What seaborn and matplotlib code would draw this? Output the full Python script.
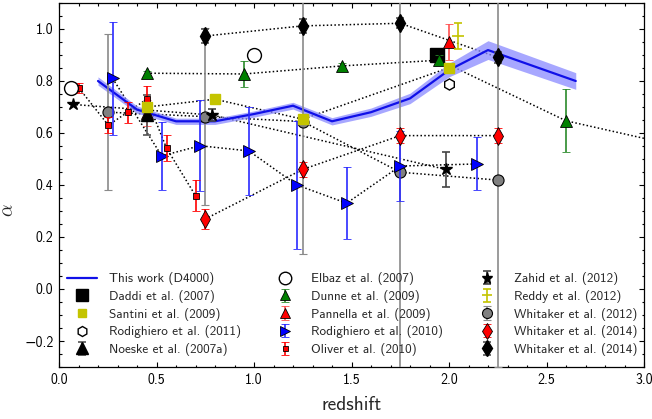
import numpy as np
import pandas as pd
import matplotlib
matplotlib.use("Agg")
import matplotlib.pyplot as plt
import seaborn as sns

# ---------------- data ----------------
this_z = [0.2, 0.4, 0.6, 0.8, 1.0, 1.2, 1.4, 1.6, 1.8, 2.0, 2.2, 2.65]
this_a = [0.80, 0.69, 0.645, 0.645, 0.673, 0.705, 0.645, 0.68, 0.733, 0.842, 0.919, 0.80]
this_e = [0.016, 0.014, 0.012, 0.012, 0.012, 0.013, 0.014, 0.016, 0.02, 0.026, 0.036, 0.032]

daddi_z, daddi_a = [1.94], [0.90]
santini_z = [0.45, 0.80, 1.25, 2.0]
santini_a = [0.70, 0.73, 0.653, 0.851]
rodi11_z, rodi11_a = [2.0], [0.79]
noeske_z, noeske_a, noeske_e = [0.45], [0.669], [0.077]
elbaz_z, elbaz_a = [0.062, 1.0], [0.773, 0.90]
dunne_z = [0.45, 0.95, 1.45, 1.95, 2.60, 3.5]
dunne_a = [0.83, 0.827, 0.858, 0.88, 0.647, 0.495]
dunne_e = [0.01, 0.05, 0.012, 0.02, 0.122, 0.12]
pann_z, pann_a, pann_e = [0.45, 2.0], [0.675, 0.951], [0.05, 0.07]
rodi10_z = [0.275, 0.527, 0.723, 0.974, 1.22, 1.475, 1.75, 2.145]
rodi10_a = [0.81, 0.512, 0.551, 0.531, 0.40, 0.33, 0.473, 0.481]
rodi10_e = [0.217, 0.13, 0.175, 0.168, 0.247, 0.139, 0.133, 0.102]
oliver_z = [0.103, 0.253, 0.352, 0.45, 0.552, 0.70]
oliver_a = [0.772, 0.63, 0.68, 0.73, 0.541, 0.359]
oliver_e = [0.02, 0.03, 0.04, 0.05, 0.05, 0.06]
zahid_z = [0.07, 0.786, 1.983]
zahid_a = [0.71, 0.669, 0.46]
zahid_e = [0.0, 0.022, 0.068]
reddy_z, reddy_a, reddy_e = [2.048], [0.973], [0.05]
wh12_z = [0.253, 0.749, 1.25, 1.75, 2.25]
wh12_a = [0.68, 0.663, 0.644, 0.449, 0.419]
wh12_e = [0.30, 0.34, 0.51, 0.90, 0.72]
wh14r_z = [0.749, 1.25, 1.75, 2.25]
wh14r_a = [0.269, 0.46, 0.59, 0.59]
wh14r_e = [0.04, 0.03, 0.03, 0.03]
wh14k_z = [0.749, 1.25, 1.75, 2.25]
wh14k_a = [0.973, 1.012, 1.022, 0.891]
wh14k_e = [0.026, 0.027, 0.02, 0.02]

xticks = [0.0, 0.5, 1.0, 1.5, 2.0, 2.5, 3.0]
yticks = [-0.2, 0.0, 0.2, 0.4, 0.6, 0.8, 1.0]

# ---------------- style ----------------
sns.set_theme(style="ticks")
plt.rcParams["font.family"] = ["cmss10", "DejaVu Sans"]
plt.rcParams["mathtext.fontset"] = "cm"
plt.rcParams["axes.unicode_minus"] = True
plt.rcParams["axes.formatter.use_mathtext"] = False

fig = plt.figure(figsize=(6.52, 4.19), dpi=100)
ax = fig.add_axes([59 / 652, 1 - 367 / 419, (644 - 59) / 652, (367 - 3) / 419])

DOT = (0, (1, 1.5))
def dotted(z, a):
    ax.plot(z, a, color="black", ls=DOT, lw=1.1, zorder=2)

YEL = "#c4c400"
GRY = "#8a8a8a"

# dotted connecting lines
for z, a in [(santini_z, santini_a), (dunne_z, dunne_a), (rodi10_z, rodi10_a),
             (oliver_z, oliver_a), (zahid_z, zahid_a), (wh12_z, wh12_a),
             (wh14r_z, wh14r_a), (wh14k_z, wh14k_a)]:
    dotted(z, a)

# this work
df = pd.DataFrame({"z": this_z, "a": this_a, "e": this_e})
ax.fill_between(df["z"], df["a"] - df["e"], df["a"] + df["e"], color="#8a8aff",
                alpha=0.75, lw=0, zorder=3)
sns.lineplot(data=df, x="z", y="a", ax=ax, color="#1010e8", lw=1.6, sort=False,
             estimator=None, zorder=4, label="This work (D4000)", legend=False)
line_handle = ax.lines[-1]

eb = dict(ls="none", capsize=3, elinewidth=1.2, capthick=1.2)
h_wh12 = ax.errorbar(wh12_z, wh12_a, yerr=wh12_e, fmt="o", ms=8, mfc="#808080", mec="black",
                     mew=0.8, ecolor=GRY, zorder=5, label="Whitaker et al. (2012)", **eb)
h_rodi10 = ax.errorbar(rodi10_z, rodi10_a, yerr=rodi10_e, fmt=">", ms=8, mfc="#0000ff",
                       mec="black", mew=0.6, ecolor="#2a2aff", zorder=6,
                       label="Rodighiero et al. (2010)", **eb)
h_pann = ax.errorbar(pann_z, pann_a, yerr=pann_e, fmt="^", ms=8, mfc="red", mec="black",
                     mew=0.6, ecolor="#ff5050", zorder=6, label="Pannella et al. (2009)", **eb)
h_noeske = ax.errorbar(noeske_z, noeske_a, yerr=noeske_e, fmt="^", ms=9, mfc="black",
                       mec="black", ecolor="#555555", zorder=7, label="Noeske et al. (2007a)", **eb)
h_oliver = ax.errorbar(oliver_z, oliver_a, yerr=oliver_e, fmt="s", ms=4, mfc="red",
                       mec="black", mew=0.6, ecolor="red", zorder=7,
                       label="Oliver et al. (2010)", **eb)
h_dunne = ax.errorbar(dunne_z, dunne_a, yerr=dunne_e, fmt="^", ms=8, mfc="#008000",
                      mec="black", mew=0.6, ecolor="#2a8a2a", zorder=7,
                      label="Dunne et al. (2009)", **eb)
h_zahid = ax.errorbar(zahid_z, zahid_a, yerr=zahid_e, fmt="*", ms=9, mfc="black",
                      mec="black", ecolor="#444444", zorder=7, label="Zahid et al. (2012)", **eb)
h_reddy = ax.errorbar(reddy_z, reddy_a, yerr=reddy_e, fmt="_", ms=8, mfc=YEL, mec=YEL,
                      mew=1.2, ecolor=YEL, zorder=7, label="Reddy et al. (2012)", **eb)
h_wh14r = ax.errorbar(wh14r_z, wh14r_a, yerr=wh14r_e, fmt="d", ms=9, mfc="red", mec="black",
                      mew=0.6, ecolor="red", zorder=7, label="Whitaker et al. (2014)", **eb)
h_wh14k = ax.errorbar(wh14k_z, wh14k_a, yerr=wh14k_e, fmt="d", ms=9, mfc="black", mec="black",
                      ecolor="#555555", zorder=7, label="Whitaker et al. (2014)", **eb)
h_daddi, = ax.plot(daddi_z, daddi_a, "s", ms=10, color="black", zorder=6, ls="none",
                   label="Daddi et al. (2007)")
h_santini, = ax.plot(santini_z, santini_a, "s", ms=7, color=YEL, mec=YEL, zorder=8, ls="none",
                     label="Santini et al. (2009)")
h_rodi11, = ax.plot(rodi11_z, rodi11_a, "h", ms=8, mfc="white", mec="black", mew=1.0,
                    zorder=8, ls="none", label="Rodighiero et al. (2011)")
h_elbaz, = ax.plot(elbaz_z, elbaz_a, "o", ms=10, mfc="white", mec="black", mew=1.0,
                   zorder=8, ls="none", label="Elbaz et al. (2007)")

ax.set_xlim(0, 3.0)
ax.set_ylim(-0.3, 1.1)
ax.set_xticks(xticks)
ax.set_yticks(yticks)
ax.set_xticklabels([f"{v:.1f}" for v in xticks])
ax.set_yticklabels([f"{v:.1f}".replace("-", "\u2212") for v in yticks])
ax.xaxis.set_minor_locator(matplotlib.ticker.MultipleLocator(0.1))
ax.yaxis.set_minor_locator(matplotlib.ticker.MultipleLocator(0.05))
ax.tick_params(which="both", direction="in", top=True, right=True, colors="black",
               labelsize=10, width=0.8)
ax.tick_params(which="major", length=3.5, pad=4)
ax.tick_params(which="minor", length=1.8)
for s in ax.spines.values():
    s.set_color("black")
    s.set_linewidth(0.9)
ax.set_xlabel("redshift", fontsize=14, labelpad=7)
ax.set_ylabel(r"$\alpha$", fontsize=14)
ax.yaxis.set_label_coords(-0.072, 0.43)

handles = [line_handle, h_daddi, h_santini, h_rodi11, h_noeske,
           h_elbaz, h_dunne, h_pann, h_rodi10, h_oliver,
           h_zahid, h_reddy, h_wh12, h_wh14r, h_wh14k]
labels = ["This work (D4000)", "Daddi et al. (2007)", "Santini et al. (2009)",
          "Rodighiero et al. (2011)", "Noeske et al. (2007a)",
          "Elbaz et al. (2007)", "Dunne et al. (2009)", "Pannella et al. (2009)",
          "Rodighiero et al. (2010)", "Oliver et al. (2010)",
          "Zahid et al. (2012)", "Reddy et al. (2012)", "Whitaker et al. (2012)",
          "Whitaker et al. (2014)", "Whitaker et al. (2014)"]
ax.legend(handles, labels, ncol=3, loc="upper left", bbox_to_anchor=(0.0137, 0.260),
          frameon=False, fontsize=9.5, borderpad=0, borderaxespad=0, handlelength=2.3,
          handletextpad=0.85, columnspacing=2.2, labelspacing=0.35, numpoints=1,
          markerscale=0.9)

fig.savefig("out.png", dpi=100)
